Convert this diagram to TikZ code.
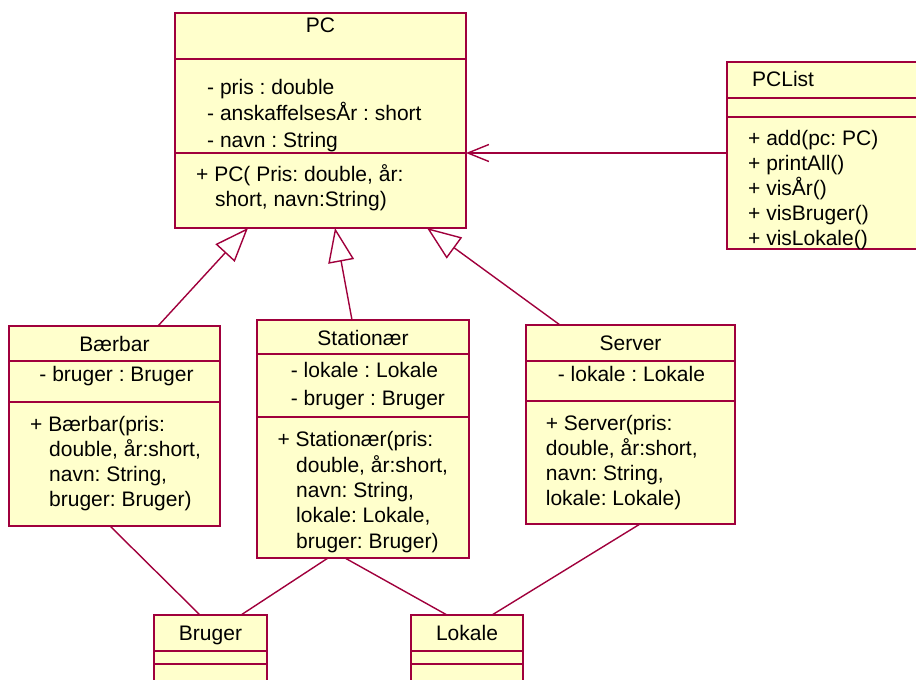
\documentclass[tikz,border=0pt]{standalone}
\usepackage{fontspec}
\setmainfont{Liberation Sans}
\usetikzlibrary{arrows.meta}
\definecolor{umlred}{RGB}{160,0,60}
\definecolor{umlfill}{RGB}{255,255,204}
\frenchspacing

\begin{document}
\begin{tikzpicture}[x=1pt, y=-1pt,
  cls/.style={draw=umlred, fill=umlfill, line width=1.8pt, inner sep=0pt,
    outer sep=0pt, anchor=north west},
  sep/.style={draw=umlred, line width=1.8pt},
  txt/.style={font=\fontsize{21}{25}\selectfont, inner sep=0pt, anchor=base west},
  ttl/.style={txt, anchor=base},
  assoc/.style={draw=umlred, line width=1.4pt},
  gen/.style={assoc, -{Triangle[open, length=34pt, width=26pt]}},
  nav/.style={assoc, -{Straight Barb[length=21pt, width=17pt]}}]
\useasboundingbox (0,0) rectangle (916,680);

% PC
\node[cls, minimum width=291, minimum height=215] (pc) at (175,13) {};
\draw[sep] (pc.west |- 0,59) -- (pc.east |- 0,59);
\draw[sep] (pc.west |- 0,153) -- (pc.east |- 0,153);
\node[ttl] (pc-name) at (320.5,32) {PC};
\foreach \t [count=\i] in {- pris : double, - anskaffelsesÅr : short, - navn : String}
  \node[txt] (pc-attr\i) at (207, 67.5+26.5*\i) {\t};
\node[txt] (pc-op1) at (196,181.7) {+ PC( Pris: double, år:};
\node[txt] (pc-op2) at (215,206.7) {short, navn:String)};

% PCList
\node[cls, minimum width=240, minimum height=187] (pclist) at (727,62) {};
\draw[sep] (pclist.west |- 0,98) -- (pclist.east |- 0,98);
\draw[sep] (pclist.west |- 0,117) -- (pclist.east |- 0,117);
\node[txt] (pclist-name) at (752,86.7) {PCList};
\foreach \t [count=\i] in {+ add(pc: PC), + printAll(), + visÅr(), + visBruger(), + visLokale()}
  \node[txt] (pclist-op\i) at (748, 120+25*\i) {\t};

% Baerbar
\node[cls, minimum width=211, minimum height=200] (bar) at (9,326) {};
\draw[sep] (bar.west |- 0,361) -- (bar.east |- 0,361);
\draw[sep] (bar.west |- 0,402) -- (bar.east |- 0,402);
\node[ttl] (bar-name) at (114.5,351) {Bærbar};
\node[ttl] (bar-attr) at (116.5,381.7) {- bruger : Bruger};
\node[txt] (bar-op) at (30,431.7) {+ Bærbar(pris:};
\foreach \t [count=\i] in {{double, år:short,}, {navn: String,}, {bruger: Bruger)}}
  \node[txt] (bar-arg\i) at (49, 431.7+25*\i) {\t};

% Stationaer
\node[cls, minimum width=212, minimum height=238] (sta) at (257,320) {};
\draw[sep] (sta.west |- 0,354) -- (sta.east |- 0,354);
\draw[sep] (sta.west |- 0,417) -- (sta.east |- 0,417);
\node[ttl] (sta-name) at (363,345) {Stationær};
\foreach \t [count=\i] in {- lokale : Lokale, - bruger : Bruger}
  \node[txt] (sta-attr\i) at (290.7, 349.7+28*\i) {\t};
\node[txt] (sta-op) at (277.3,446.7) {+ Stationær(pris:};
\foreach \t [count=\i] in {{double, år:short,}, {navn: String,}, {lokale: Lokale,}, {bruger: Bruger)}}
  \node[txt] (sta-arg\i) at (296, 446.7+25.4*\i) {\t};

% Server
\node[cls, minimum width=209, minimum height=199] (srv) at (526,325) {};
\draw[sep] (srv.west |- 0,361) -- (srv.east |- 0,361);
\draw[sep] (srv.west |- 0,401) -- (srv.east |- 0,401);
\node[ttl] (srv-name) at (630.5,350.7) {Server};
\node[txt] (srv-attr) at (557.7,381.7) {- lokale : Lokale};
\foreach \t [count=\i] in {+ Server(pris:, {double, år:short,}, {navn: String,}, {lokale: Lokale)}}
  \node[txt] (srv-op\i) at (545.7, 405+25*\i) {\t};

% Bruger, Lokale
\node[cls, minimum width=113, minimum height=90] (bruger) at (154,615) {};
\node[cls, minimum width=112, minimum height=90] (lokale) at (411,615) {};
\foreach \n in {bruger, lokale}
  {\draw[sep] (\n.west |- 0,651) -- (\n.east |- 0,651);
   \draw[sep] (\n.west |- 0,664) -- (\n.east |- 0,664);};
\node[ttl] (bruger-name) at (210.5,640) {Bruger};
\node[ttl] (lokale-name) at (467,640) {Lokale};

% connectors
\draw[gen] ([xshift=149pt]bar.north west) -- ([xshift=73pt]pc.south west);
\draw[gen] ([xshift=95pt]sta.north west) -- ([xshift=160pt]pc.south west);
\draw[gen] ([xshift=34pt]srv.north west) -- ([xshift=252pt]pc.south west);
\draw[nav] ([yshift=2.5pt]pclist.west) coordinate (navstart) -- (pc.east |- navstart);
\draw[assoc] ([xshift=101pt]bar.south west) -- ([xshift=46pt]bruger.north west);
\draw[assoc] ([xshift=71pt]sta.south west) -- ([xshift=87pt]bruger.north west);
\draw[assoc] ([xshift=88pt]sta.south west) -- ([xshift=36pt]lokale.north west);
\draw[assoc] ([xshift=114pt]srv.south west) -- ([xshift=81pt]lokale.north west);
\end{tikzpicture}
\end{document}
